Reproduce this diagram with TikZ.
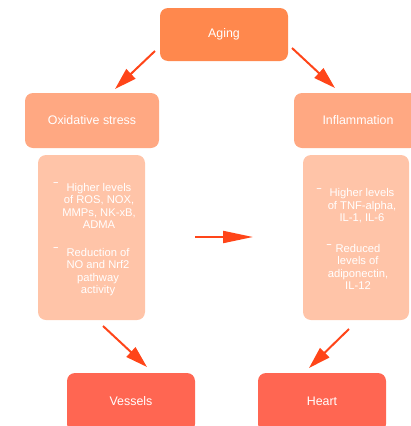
\documentclass[tikz,border=0pt]{standalone}
\usepackage{fontspec}
\setmainfont{Liberation Sans}
\usetikzlibrary{arrows.meta}
\definecolor{agingc}{HTML}{FF884D}
\definecolor{midc}{HTML}{FFA882}
\definecolor{listc}{HTML}{FFC4A8}
\definecolor{endc}{HTML}{FF6652}
\definecolor{arrc}{HTML}{FF4519}
\tikzset{
  box/.style={draw=none, text=white, font=\fontsize{12.4}{14}\selectfont},
  listtxt/.style={text=white, align=center, font=\fontsize{11.2}{12.5}\selectfont, inner sep=0pt},
  dashmark/.style={text=white, font=\fontsize{9}{10}\selectfont\bfseries, inner sep=0pt},
  arr/.style={draw=arrc, line width=2pt, -{Triangle[length=22pt,width=13pt]}}
}
\begin{document}
\begin{tikzpicture}[x=1pt,y=-1pt]
\useasboundingbox (0,0) rectangle (410,426);
% boxes
\fill[agingc, rounded corners=8pt] (160,8) rectangle (288,61);
\node[box] (aging) at (224,34) {Aging};
\fill[midc, rounded corners=8pt] (25,93) rectangle (159,148);
\node[box] (ox) at (92,120) {Oxidative stress};
\fill[midc, rounded corners=8pt] (294,93) rectangle (418,148);
\node[box] (inf) at (358,120) {Inflammation};
\fill[listc, rounded corners=8pt] (38,155) rectangle (145,320);
\fill[listc, rounded corners=8pt] (303,155) rectangle (409,320);
\fill[endc, rounded corners=8pt] (67,373) rectangle (195,432);
\node[box] (ves) at (131,401) {Vessels};
\fill[endc, rounded corners=8pt] (258,373) rectangle (386,432);
\node[box] (heart) at (322,401) {Heart};
% list text
\node[listtxt] (l1) at (99,206) {Higher levels\\of ROS, NOX,\\MMPs, NK-xB,\\ADMA};
\node[dashmark] (d1) at (56,184) {–};
\node[listtxt] (l2) at (98,272) {Reduction of\\NO and Nrf2\\pathway\\activity};
\node[dashmark] (d2) at (56,249) {–};
\node[listtxt] (r1) at (362,206) {Higher levels\\of TNF-alpha,\\IL-1, IL-6};
\node[dashmark] (d3) at (319,190) {–};
\node[listtxt] (r2) at (358,267) {Reduced\\levels of\\adiponectin,\\IL-12};
\node[dashmark] (d4) at (329,246) {–};
% arrow anchors
\coordinate (a1s) at (155,51);
\coordinate (a1e) at (115,89);
\coordinate (a2s) at (292,48);
\coordinate (a2e) at (335,88);
\coordinate (a3s) at (195,237);
\coordinate (a3e) at (253,237);
\coordinate (a4s) at (103,326);
\coordinate (a4e) at (147,367);
\coordinate (a5s) at (349,329);
\coordinate (a5e) at (309,368);
\draw[arr] (a1s) -- (a1e);
\draw[arr] (a2s) -- (a2e);
\draw[draw=arrc, line width=2pt, -{Triangle[length=30pt,width=12pt]}] (a3s) -- (a3e);
\draw[arr] (a4s) -- (a4e);
\draw[arr] (a5s) -- (a5e);
\end{tikzpicture}
\end{document}
